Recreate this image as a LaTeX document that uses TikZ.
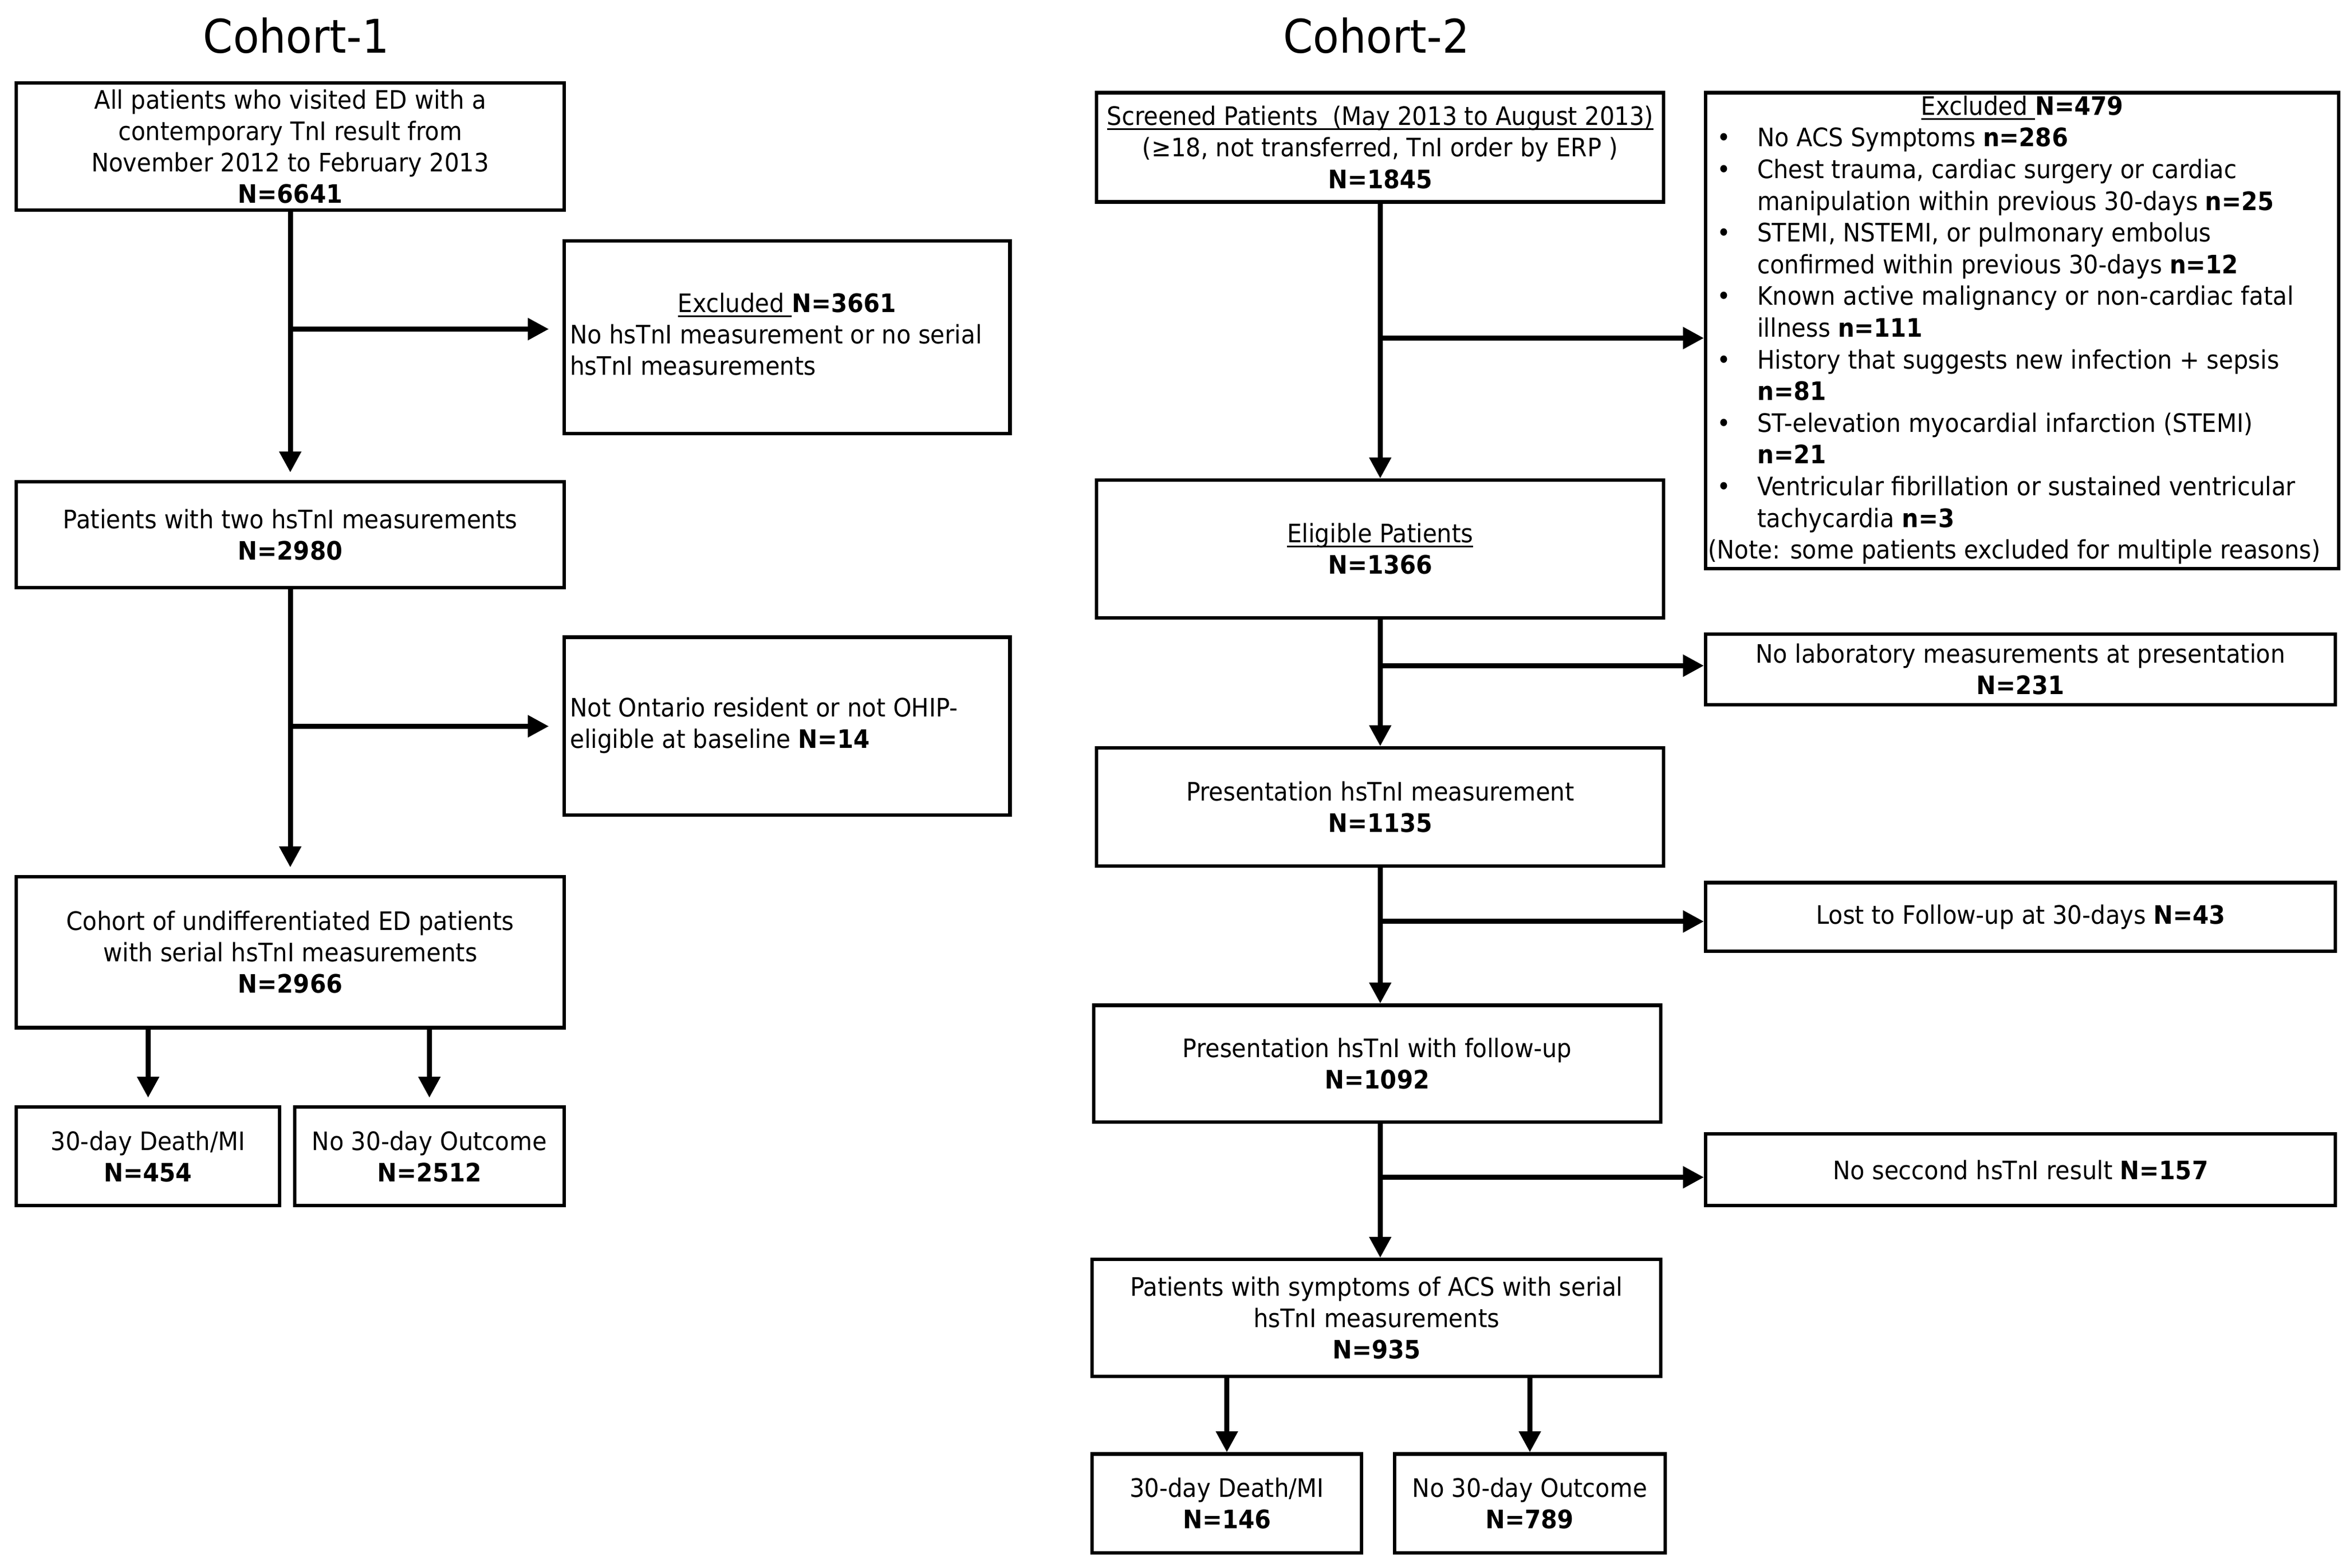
\documentclass[tikz,border=0pt]{standalone}
\usepackage{fontspec}
\setmainfont{DejaVu Sans}[FakeStretch=0.92]
\usetikzlibrary{arrows.meta}
\newcommand\fs{\fontsize{17}{21}\selectfont}
\newcommand\ulx[1]{\leavevmode\setbox0\hbox{#1}\rlap{\rule[-3.2pt]{\wd0}{1.2pt}}\box0}
\tikzset{
  box/.style={draw, line width=2.3pt, rectangle, inner sep=0pt, align=center, font=\fs},
  xbox/.style={draw, line width=2.3pt, rectangle, inner sep=0pt, font=\fs},
  arr/.style={line width=3.4pt, -{Triangle[length=14pt,width=14pt]}},
  title/.style={inner sep=0pt, font=\fontsize{31}{36}\selectfont},
}
\begin{document}
\begin{tikzpicture}[x=1pt,y=-1pt]
\useasboundingbox (0,0) rectangle (1568,1048.2);

% titles
\node[title] (t1) at (198,24) {Cohort-1};
\node[title] (t2) at (920,24) {Cohort-2};

% ---------------- Cohort-1 ----------------
\node[box, minimum width=366pt, minimum height=85pt] (A) at (194,98)
  {All patients who visited ED with a\\contemporary TnI result from\\November 2012 to February 2013\\\textbf{N=6641}};
\node[xbox, minimum width=298pt, minimum height=129pt] (X1) at (526,225.5)
  {\begin{tabular}{@{}p{290pt}@{}}
   \multicolumn{1}{@{}c@{}}{\ulx{Excluded\ }\textbf{N=3661}}\\
   No hsTnI measurement or no serial\\
   hsTnI measurements
   \end{tabular}};
\node[box, minimum width=366pt, minimum height=71pt] (B) at (194,357.5)
  {Patients with two hsTnI measurements\\\textbf{N=2980}};
\node[xbox, minimum width=298pt, minimum height=119pt] (X2) at (526,485.5)
  {\begin{tabular}{@{}p{290pt}@{}}
   Not Ontario resident or not OHIP-\\
   eligible at baseline \textbf{N=14}
   \end{tabular}};
\node[box, minimum width=366pt, minimum height=101pt] (C) at (194,636.5)
  {Cohort of undifferentiated ED patients\\with serial hsTnI measurements\\\textbf{N=2966}};
\node[box, minimum width=176pt, minimum height=66pt] (D) at (99,773)
  {30-day Death/MI\\\textbf{N=454}};
\node[box, minimum width=180pt, minimum height=66pt] (E) at (287,773)
  {No 30-day Outcome\\\textbf{N=2512}};

\coordinate (b1) at ([yshift=5.5pt]X1.west);
\coordinate (b2) at (X2.west);
\draw[arr, shorten >=5pt] (A.south) -- (B.north);
\draw[arr, shorten >=9pt] (A.south |- b1) -- (b1);
\draw[arr, shorten >=5pt] (B.south) -- (C.north);
\draw[arr, shorten >=9pt] (B.south |- b2) -- (b2);
\draw[arr, shorten >=5pt] (C.south -| D.north) -- (D.north);
\draw[arr, shorten >=5pt] (C.south -| E.north) -- (E.north);

% ---------------- Cohort-2 ----------------
\node[box, minimum width=379pt, minimum height=73pt] (F) at (922.5,98.5)
  {\ulx{Screened Patients\ \ (May 2013 to August 2013)}\\(≥18, not transferred, TnI order by ERP )\\\textbf{N=1845}};
\node[xbox, minimum width=423pt, minimum height=316pt, font=\fontsize{17}{21.2}\selectfont] (X3) at (1351.5,221)
  {\begin{tabular}{@{}p{33pt}@{}p{387pt}@{}}
   \multicolumn{2}{@{}c@{}}{\ulx{Excluded\ }\textbf{N=479}}\\
   \hspace{6pt}• & No ACS Symptoms \textbf{n=286}\\
   \hspace{6pt}• & Chest trauma, cardiac surgery or cardiac\\
    & manipulation within previous 30-days \textbf{n=25}\\
   \hspace{6pt}• & STEMI, NSTEMI, or pulmonary embolus\\
    & confirmed within previous 30-days \textbf{n=12}\\
   \hspace{6pt}• & Known active malignancy or non-cardiac fatal\\
    & illness \textbf{n=111}\\
   \hspace{6pt}• & History that suggests new infection + sepsis\\
    & \textbf{n=81}\\
   \hspace{6pt}• & ST-elevation myocardial infarction (STEMI)\\
    & \textbf{n=21}\\
   \hspace{6pt}• & Ventricular fibrillation or sustained ventricular\\
    & tachycardia \textbf{n=3}\\
   \multicolumn{2}{@{}l@{}}{(Note: some patients excluded for multiple reasons)}
   \end{tabular}};
\node[box, minimum width=379pt, minimum height=92pt] (G) at (922.5,367)
  {\ulx{Eligible Patients}\\\textbf{N=1366}};
\node[box, minimum width=421pt, minimum height=47pt] (X4) at (1350.5,447.5)
  {No laboratory measurements at presentation\\\textbf{N=231}};
\node[box, minimum width=379pt, minimum height=79pt] (H) at (922.5,539.5)
  {Presentation hsTnI measurement\\\textbf{N=1135}};
\node[box, minimum width=421pt, minimum height=46pt] (X5) at (1350.5,613)
  {Lost to Follow-up at 30-days \textbf{N=43}};
\node[box, minimum width=379pt, minimum height=78pt] (I) at (920.5,711)
  {Presentation hsTnI with follow-up\\\textbf{N=1092}};
\node[box, minimum width=421pt, minimum height=48pt] (X6) at (1350.5,782)
  {No seccond hsTnI result \textbf{N=157}};
\node[box, minimum width=380pt, minimum height=78pt] (J) at (920,881)
  {Patients with symptoms of ACS with serial\\hsTnI measurements\\\textbf{N=935}};
\node[box, minimum width=180pt, minimum height=66pt] (K) at (820,1005)
  {30-day Death/MI\\\textbf{N=146}};
\node[box, minimum width=181pt, minimum height=66pt] (L) at (1022.5,1005)
  {No 30-day Outcome\\\textbf{N=789}};

\coordinate (b3) at ([yshift=-5pt]X3.west);
\coordinate (b4) at ([yshift=2.5pt]X4.west);
\coordinate (b5) at ([yshift=-3pt]X5.west);
\coordinate (b6) at ([yshift=-5pt]X6.west);
\draw[arr] (F.south) -- (G.north);
\draw[arr] (F.south |- b3) -- (b3);
\draw[arr] (G.south) -- (H.north);
\draw[arr] (G.south |- b4) -- (b4);
\draw[arr] (H.south) -- (H.south |- I.north);
\draw[arr] (H.south |- b5) -- (b5);
\draw[arr] (H.south |- I.south) -- (H.south |- J.north);
\draw[arr] (H.south |- b6) -- (b6);
\draw[arr] (J.south -| K.north) -- (K.north);
\draw[arr] (J.south -| L.north) -- (L.north);
\end{tikzpicture}
\end{document}
